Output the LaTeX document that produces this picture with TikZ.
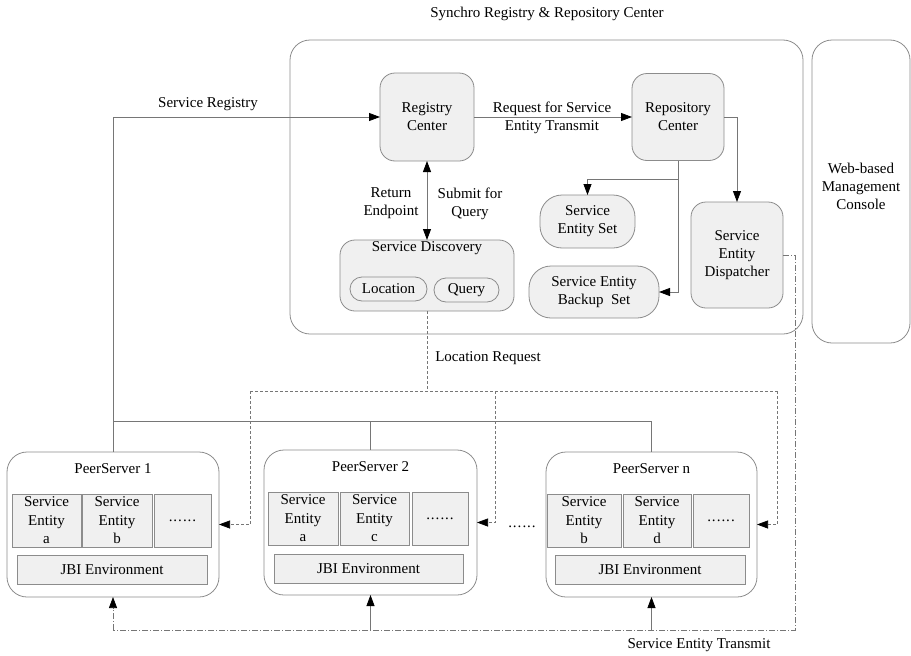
\documentclass[tikz,border=0pt]{standalone}
\usepackage{fontspec}
\setmainfont{Liberation Serif}
\usetikzlibrary{arrows.meta}
\definecolor{boxfill}{HTML}{F0F0F0}
\definecolor{edge}{HTML}{8C8C8C}
\definecolor{wire}{HTML}{767676}
\newcommand{\sixdots}{.\kern1pt.\kern1pt.\kern1pt.\kern1pt.\kern1pt.}
\begin{document}
\begin{tikzpicture}[x=1pt,y=-1pt,
  every node/.style={font=\fontsize{15}{18}\selectfont, align=center, inner sep=0pt, outer sep=0pt},
  panel/.style={draw=edge, line width=0.8pt, fill=boxfill, rounded corners=#1},
  panel/.default=15pt,
  frame/.style={draw=edge, line width=0.8pt, fill=white, rounded corners=20pt},
  cell/.style={draw=edge, line width=0.8pt, fill=boxfill},
  conn/.style={draw=wire, line width=0.8pt},
  fine/.style={draw=wire, line width=0.7pt, dash pattern=on 3pt off 2pt},
  dotdash/.style={draw=wire, line width=0.7pt, dash pattern=on 6pt off 2pt on 1pt off 2pt},
  tip/.tip={Triangle[length=11pt,width=8pt,color=black]},
]
\path[use as bounding box] (0,0) rectangle (911,656);

% title and outer frames
\node (title) at (547,14) {Synchro Registry \& Repository Center};
\node[frame, minimum width=513pt, minimum height=294pt] (center) at (546.5,187) {};
\node[frame, minimum width=98pt, minimum height=303pt] (console) at (861,191.5) {};
\node (consoletext) at (861,186) {Web-based\\Management\\Console};

% registry / repository side
\node[panel, minimum width=94pt, minimum height=88pt] (reg) at (427,117) {Registry\\Center};
\node[panel, minimum width=92pt, minimum height=87pt] (repo) at (678,117) {Repository\\Center};
\node[panel, minimum width=174pt, minimum height=71pt] (sd) at (427,275.5) {};
\node (sdtitle) at (427,248) {Service Discovery};
\node[panel=12pt, minimum width=77pt, minimum height=24pt] (loc) at (388.5,289) {Location};
\node[panel=12pt, minimum width=65pt, minimum height=24pt] (qry) at (466.5,290) {Query};
\node[panel=22pt, minimum width=95pt, minimum height=53pt] (ses) at (587.5,221.5) {Service\\Entity Set};
\node[panel=22pt, minimum width=130pt, minimum height=52pt] (sebs) at (594,292) {Service Entity\\Backup~ Set};
\node[panel, minimum width=92pt, minimum height=106pt] (sed) at (737,255) {Service\\Entity\\Dispatcher};

% peer servers
\node[frame, minimum width=212pt, minimum height=145pt] (ps1) at (113,524.5) {};
\node[frame, minimum width=213pt, minimum height=145pt] (ps2) at (370.5,522.5) {};
\node[frame, minimum width=211pt, minimum height=145pt] (psn) at (651.5,524.5) {};
\node (ps1t) at (113,469) {PeerServer 1};
\node (ps2t) at (370.5,467) {PeerServer 2};
\node (psnt) at (651.5,469) {PeerServer n};

\tikzset{ent/.style={cell, minimum height=53pt, font=\fontsize{15}{18.5}\selectfont}}
% PeerServer 1
\node[ent, minimum width=69pt] (e1a) at (46.5,520.5) {Service\\Entity\\a};
\node[ent, minimum width=70pt] (e1b) at (117,520.5) {Service\\Entity\\b};
\node[ent, minimum width=57pt] (e1x) at (182.5,520.5) {\sixdots};
\node[cell, minimum width=190pt, minimum height=29pt] (j1) at (112,569.5) {JBI Environment};
% PeerServer 2
\node[ent, minimum width=70pt] (e2a) at (303,518.5) {Service\\Entity\\a};
\node[ent, minimum width=69pt] (e2c) at (374.5,518.5) {Service\\Entity\\c};
\node[ent, minimum width=56pt] (e2x) at (440,518.5) {\sixdots};
\node[cell, minimum width=189pt, minimum height=29pt] (j2) at (368.5,568.5) {JBI Environment};
% PeerServer n
\node[ent, minimum width=74pt] (enb) at (584,520.5) {Service\\Entity\\b};
\node[ent, minimum width=68pt] (end) at (657,520.5) {Service\\Entity\\d};
\node[ent, minimum width=56pt] (enx) at (721,520.5) {\sixdots};
\node[cell, minimum width=190pt, minimum height=29pt] (jn) at (650,569.5) {JBI Environment};

\node (gapdots) at (522,527) {\sixdots};

% labels
\node (lblreg) at (208,104) {Service Registry};
\node (lblreq) at (552,117.5) {Request for Service\\Entity Transmit};
\node (lblret) at (391,203.5) {Return\\Endpoint};
\node (lblsub) at (470,203.5) {Submit for\\Query};
\node (lblloc) at (488,358) {Location Request};
\node (lbltr) at (699,645) {Service Entity Transmit};

% helper points of the wiring
\coordinate (bus1) at (113,421);
\coordinate (bus2) at (370.5,421);
\coordinate (busn) at (651.5,421);
\coordinate (branch) at (678,179);
\coordinate (lr) at (427,391);
\coordinate (lr1) at (250,391);
\coordinate (lr2) at (495,391);
\coordinate (lrn) at (777,391);
\coordinate (dspR) at (795,255);
\coordinate (dspB) at (795,630);
\coordinate (bot1) at (113,630);
\coordinate (bot2) at (370.5,630);
\coordinate (botn) at (651.5,630);

% service registry and the peer bus
\draw[conn,-tip] (ps1.north) |- (reg.west);
\draw[conn] (bus1) -- (busn) -- (psn.north);
\draw[conn] (bus2) -- (ps2.north);

% registry center links
\draw[conn,-tip] (reg.east) -- (repo.west);
\draw[conn,tip-tip] (reg.south) -- (sd.north);
\draw[conn,-tip] (repo.south) |- (sebs.east);
\draw[conn,-tip] (branch) -| (ses.north);
\draw[conn,-tip] (repo.east) -| (sed.north);

% location requests
\draw[fine] (sd.south) -- (lr);
\draw[fine] (lr1) -- (lrn);
\draw[fine,-tip] (lr1) |- (ps1.east);
\draw[fine,-tip] (lr2) |- (ps2.east);
\draw[fine,-tip] (lrn) |- (psn.east);

% entity transmission from the dispatcher
\draw[dotdash] (sed.east) -- (dspR) -- (dspB) -- (bot1);
\draw[dotdash,-tip] (bot1) -- (ps1.south);
\draw[conn,-tip] (bot2) -- (ps2.south);
\draw[conn,-tip] (botn) -- (psn.south);
\end{tikzpicture}
\end{document}
